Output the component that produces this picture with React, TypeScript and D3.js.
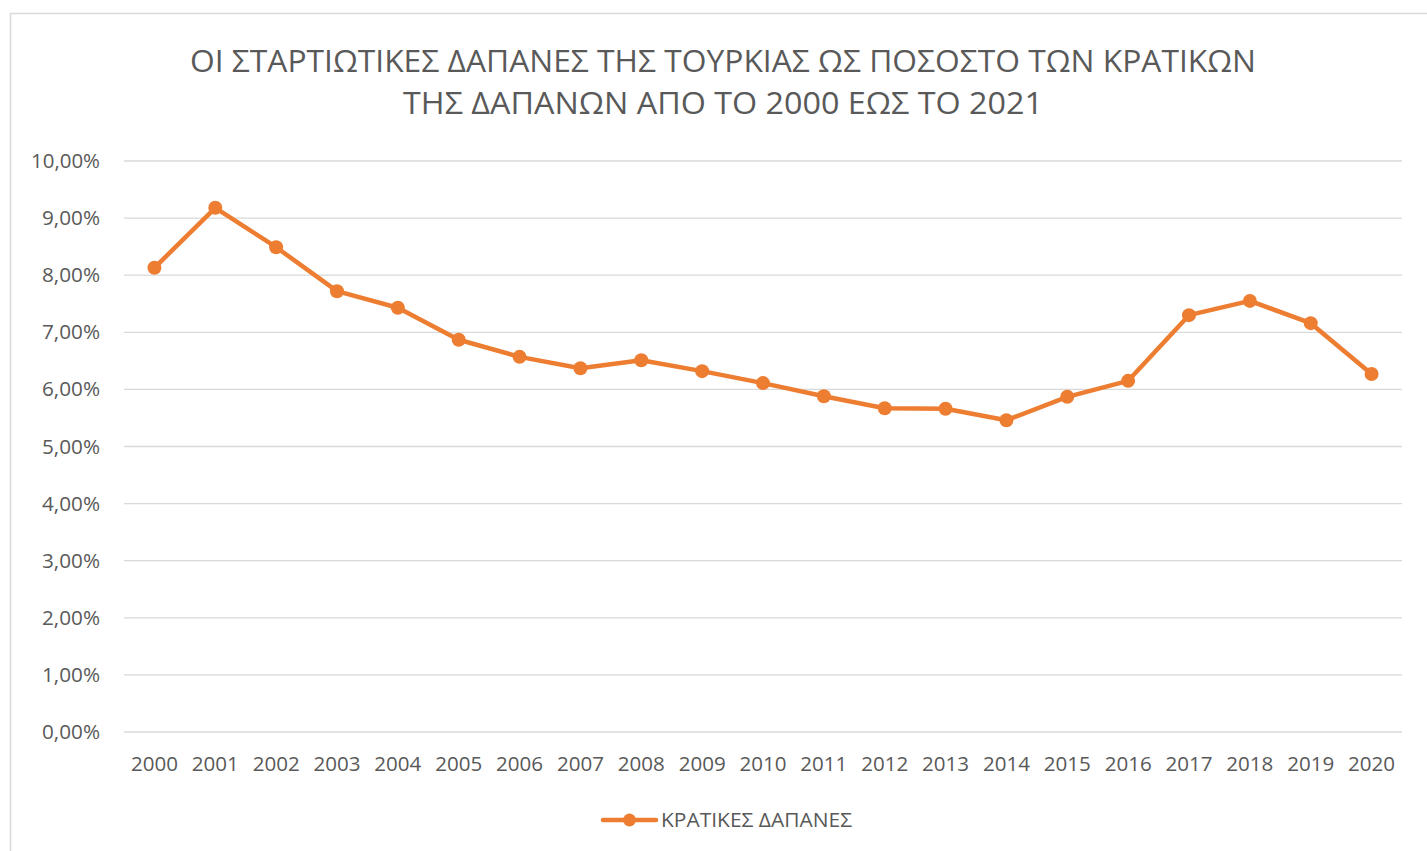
import React from "react";
import * as d3 from "d3";

const years = ["2000","2001","2002","2003","2004","2005","2006","2007","2008","2009","2010","2011","2012","2013","2014","2015","2016","2017","2018","2019","2020"];
const spending = [8.13, 9.18, 8.49, 7.72, 7.43, 6.87, 6.57, 6.37, 6.51, 6.32, 6.11, 5.88, 5.67, 5.66, 5.46, 5.87, 6.15, 7.30, 7.55, 7.16, 6.27];
const yTicks = [0,1,2,3,4,5,6,7,8,9,10];
const titleLines = ["ΟΙ ΣΤΑΡΤΙΩΤΙΚΕΣ ΔΑΠΑΝΕΣ ΤΗΣ ΤΟΥΡΚΙΑΣ ΩΣ ΠΟΣΟΣΤΟ ΤΩΝ ΚΡΑΤΙΚΩΝ", "ΤΗΣ ΔΑΠΑΝΩΝ ΑΠΟ ΤΟ 2000 ΕΩΣ ΤΟ 2021"];
const seriesName = "ΚΡΑΤΙΚΕΣ ΔΑΠΑΝΕΣ";

const W = 1427, H = 851;
const plotLeft = 124, plotRight = 1402, plotTop = 161, plotBottom = 732;
const ORANGE = "#ED7D31";
const TXT = "#595959";
const GRID = "#d9d9d9";
const FONT = "'Open Sans', sans-serif";

export default function App() {
  const x = d3.scaleBand<string>().domain(years).range([plotLeft, plotRight]);
  const y = d3.scaleLinear().domain([0, 10]).range([plotBottom, plotTop]);
  const cx = (yr: string) => (x(yr) as number) + x.bandwidth() / 2;
  const line = d3.line<number>().x((_, i) => cx(years[i])).y(d => y(d));
  const fmt = (v: number) => v.toFixed(2).replace(".", ",") + "%";

  return (
    <svg width={W} height={H} style={{ position: "absolute", left: 0, top: 0, background: "#fff" }} fontFamily={FONT}>
      <rect x={10.5} y={13.5} width={W + 20} height={H + 20} fill="#fff" stroke={GRID} strokeWidth={1.5} />
      <text x={723} y={72} textAnchor="middle" fontSize={31} fill={TXT} textLength={1066} lengthAdjust="spacingAndGlyphs">{titleLines[0]}</text>
      <text x={723} y={114} textAnchor="middle" fontSize={31} fill={TXT} textLength={640} lengthAdjust="spacingAndGlyphs">{titleLines[1]}</text>
      {yTicks.map(t => (
        <g key={t}>
          <line x1={plotLeft} x2={plotRight} y1={y(t)} y2={y(t)} stroke={GRID} strokeWidth={1.3} />
          <text x={100} y={y(t) + 7} textAnchor="end" fontSize={20} fill={TXT} textLength={t === 10 ? 69 : 58} lengthAdjust="spacingAndGlyphs">{fmt(t)}</text>
        </g>
      ))}
      {years.map(yr => (
        <text key={yr} x={cx(yr)} y={771} textAnchor="middle" fontSize={20} fill={TXT} textLength={47} lengthAdjust="spacingAndGlyphs">{yr}</text>
      ))}
      <path d={line(spending) || ""} fill="none" stroke={ORANGE} strokeWidth={4.5} strokeLinejoin="round" strokeLinecap="round" />
      {spending.map((v, i) => (
        <circle key={i} cx={cx(years[i])} cy={y(v)} r={7} fill={ORANGE} />
      ))}
      <line x1={603} x2={656} y1={820} y2={820} stroke={ORANGE} strokeWidth={4.5} strokeLinecap="round" />
      <circle cx={629.5} cy={820} r={6.5} fill={ORANGE} />
      <text x={661} y={827} fontSize={20} fill={TXT} textLength={191} lengthAdjust="spacingAndGlyphs">{seriesName}</text>
    </svg>
  );
}
